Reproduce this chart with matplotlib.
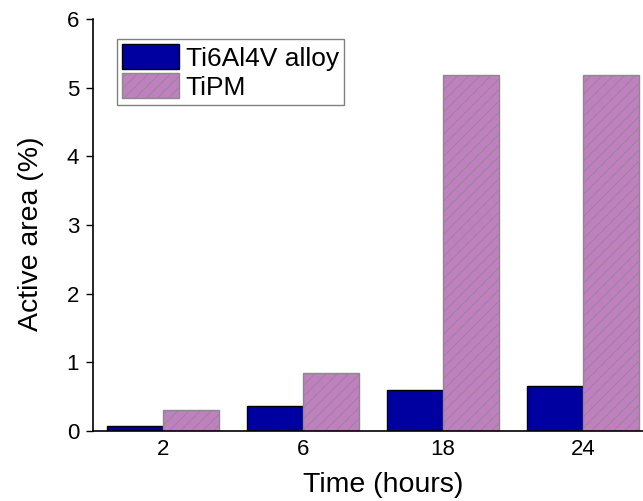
import matplotlib.pyplot as plt
import numpy as np

plt.rcParams['font.family'] = ['Liberation Sans', 'DejaVu Sans']
plt.rcParams['hatch.linewidth'] = 0.6

times = ['2', '6', '18', '24']
ti6al4v = [0.07, 0.36, 0.59, 0.65]
tipm = [0.30, 0.84, 5.18, 5.18]

fig = plt.figure(figsize=(6.43, 5.01), dpi=100)
ax = fig.add_axes([93 / 643, 1 - 431 / 501, 1 - 93 / 643, (431 - 19) / 501])

x = np.arange(len(times))
w = 0.4
ax.bar(x - w / 2, ti6al4v, w, color='#0000A0', edgecolor='black', linewidth=1.0,
       label='Ti6Al4V alloy')
ax.bar(x + w / 2, tipm, w, color='#C080C0', edgecolor='#8a8a8a', linewidth=1.0,
       hatch='///', label='TiPM')

ax.set_xlim(-0.5, 3.43)
ax.set_ylim(0, 6)
ax.set_xticks(x)
ax.set_xticklabels(times)
ax.set_yticks(range(7))
ax.tick_params(axis='x', length=0, labelsize=16, pad=6)
ax.tick_params(axis='y', direction='out', length=5, width=1.0, labelsize=16, pad=5)
for s in ['top', 'right']:
    ax.spines[s].set_visible(False)
for s in ['left', 'bottom']:
    ax.spines[s].set_linewidth(1.2)

ax.set_xlabel('Time (hours)', fontsize=20.5, labelpad=8)
ax.xaxis.set_label_coords(0.527, -0.1, transform=ax.transAxes)
ax.xaxis.label.set_verticalalignment('top')
ax.set_ylabel('Active area (%)', fontsize=20.5)
ax.yaxis.set_label_coords(-0.09, 0.478)

leg = ax.legend(loc='upper left', bbox_to_anchor=(0.0436, 0.951), fontsize=19,
                handlelength=2.15, handleheight=1.06, fancybox=False,
                edgecolor='#808080', framealpha=1, borderpad=0.2,
                labelspacing=0.1, handletextpad=0.25, borderaxespad=0)
leg.get_frame().set_linewidth(1.0)

fig.savefig('out.png', dpi=100)
